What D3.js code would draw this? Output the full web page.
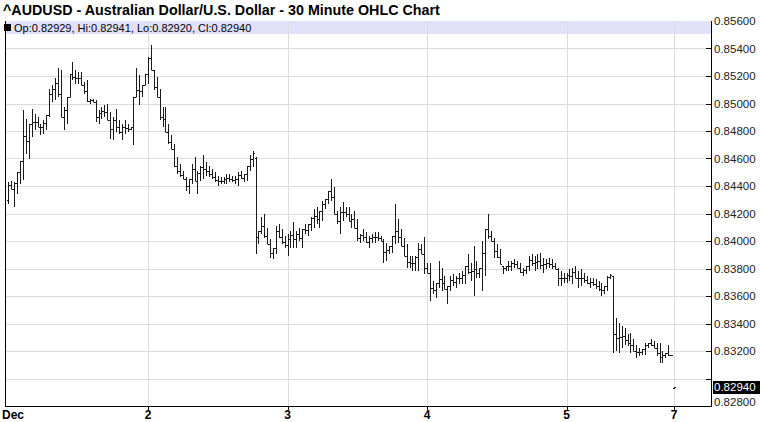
<!DOCTYPE html>
<html><head><meta charset="utf-8">
<script src="https://cdn.jsdelivr.net/npm/d3@7"></script>
<style>body{margin:0;background:#fff}svg{display:block}</style>
</head><body><svg id="c" width="761" height="422"></svg>
<script>
const titleText = "^AUDUSD - Australian Dollar/U.S. Dollar - 30 Minute OHLC Chart";
const dayLabels = ["Dec","2","3","4","5","7"];
const dayIndex = [0,48,96,144,192,229];
const yTicks = [0.856,0.854,0.852,0.850,0.848,0.846,0.844,0.842,0.840,0.838,0.836,0.834,0.832,0.830,0.828];

const opens = [
.84300,.84409,.84379,.84421,.84500,.84585,.84762,.84726,.84853,.84865,
.84865,.84828,.84829,.84859,.84914,.85072,.85103,.85151,.85072,.84902,
.84950,.85047,.85218,.85194,.85188,.85182,.85133,.85090,.85018,.85024,
.85011,.84902,.84933,.84945,.84938,.84877,.84817,.84878,.84829,.84792,
.84829,.84823,.84816,.84828,.85050,.85097,.85090,.85133,.85218,.85334,
.85242,.85121,.85047,.84902,.84884,.84792,.84720,.84671,.84549,.84512,
.84482,.84451,.84397,.84451,.84525,.84439,.84494,.84537,.84525,.84506,
.84489,.84464,.84440,.84439,.84439,.84452,.84458,.84452,.84446,.84452,
.84482,.84458,.84488,.84549,.84597,.84600,.84026,.84074,.84111,.84038,
.83977,.83910,.83952,.84074,.84032,.83995,.83971,.84013,.84044,.84013,
.84050,.84019,.84086,.84081,.84123,.84166,.84184,.84159,.84220,.84270,
.84306,.84366,.84320,.84196,.84147,.84214,.84208,.84196,.84147,.84159,
.84098,.84020,.84044,.84026,.83995,.84020,.84026,.84032,.84020,.84001,
.83922,.83935,.83965,.84038,.84075,.84026,.83965,.83892,.83849,.83837,
.83837,.83886,.83941,.83904,.83807,.83770,.83661,.83642,.83697,.83721,
.83698,.83649,.83673,.83716,.83703,.83728,.83734,.83752,.83819,.83776,
.83783,.83794,.83770,.83806,.83916,.84086,.84038,.84001,.83928,.83886,
.83819,.83801,.83819,.83819,.83837,.83831,.83807,.83776,.83789,.83819,
.83862,.83837,.83849,.83855,.83825,.83831,.83843,.83831,.83819,.83794,
.83728,.83734,.83734,.83752,.83746,.83776,.83733,.83734,.83734,.83716,
.83697,.83703,.83686,.83673,.83649,.83643,.83673,.83740,.83746,.83320,
.83296,.83302,.83308,.83278,.83259,.83241,.83198,.83192,.83193,.83211,
.83241,.83259,.83247,.83222,.83186,.83156,.83168,.83186,.83168,.82929];

const highs = [
.84427,.84439,.84427,.84500,.84585,.84950,.84890,.84853,.84963,.84926,
.84902,.84853,.84877,.84914,.85109,.85133,.85182,.85255,.85242,.84975,
.85047,.85218,.85303,.85242,.85230,.85230,.85157,.85169,.85036,.85036,
.85023,.84950,.84975,.84987,.84999,.84938,.84902,.84963,.84877,.84853,
.84877,.84853,.84828,.85050,.85255,.85206,.85133,.85218,.85339,.85425,
.85242,.85194,.85109,.84975,.84975,.84853,.84768,.84707,.84610,.84561,
.84512,.84463,.84451,.84561,.84610,.84512,.84549,.84622,.84573,.84549,
.84525,.84500,.84476,.84463,.84463,.84488,.84488,.84476,.84476,.84500,
.84512,.84488,.84549,.84622,.84658,.84610,.84074,.84171,.84196,.84098,
.84013,.83952,.84111,.84123,.84086,.84038,.84050,.84074,.84135,.84074,
.84098,.84086,.84123,.84123,.84171,.84233,.84244,.84220,.84293,.84306,
.84366,.84452,.84390,.84220,.84244,.84281,.84244,.84244,.84196,.84220,
.84160,.84050,.84086,.84062,.84038,.84050,.84062,.84062,.84038,.84013,
.83989,.83965,.84038,.84269,.84160,.84086,.84025,.83977,.83892,.83892,
.83892,.83989,.83977,.84030,.83843,.83843,.83709,.83697,.83855,.83806,
.83746,.83673,.83746,.83758,.83746,.83770,.83782,.83819,.83904,.83843,
.83965,.83855,.83806,.84001,.84086,.84196,.84074,.84025,.83977,.83941,
.83819,.83819,.83855,.83855,.83867,.83855,.83843,.83806,.83819,.83892,
.83904,.83892,.83904,.83916,.83879,.83867,.83879,.83867,.83843,.83806,
.83782,.83770,.83770,.83794,.83806,.83819,.83782,.83794,.83770,.83746,
.83733,.83733,.83722,.83709,.83697,.83673,.83746,.83758,.83746,.83441,
.83405,.83381,.83368,.83320,.83332,.83284,.83247,.83222,.83211,.83259,
.83259,.83284,.83271,.83259,.83259,.83198,.83186,.83247,.83174,.82941];

const lows = [
.84269,.84379,.84244,.84342,.84415,.84440,.84634,.84598,.84755,.84804,
.84828,.84768,.84780,.84804,.84902,.85011,.85023,.85047,.84902,.84804,
.84853,.85047,.85169,.85145,.85145,.85133,.85072,.85011,.84999,.85011,
.84865,.84853,.84890,.84902,.84877,.84744,.84731,.84792,.84780,.84731,
.84780,.84792,.84804,.84695,.85047,.84987,.85047,.85133,.85145,.85242,
.85096,.85047,.84877,.84828,.84792,.84707,.84671,.84536,.84488,.84463,
.84451,.84366,.84342,.84415,.84439,.84342,.84439,.84452,.84476,.84463,
.84452,.84427,.84403,.84415,.84415,.84415,.84427,.84427,.84415,.84403,
.84452,.84427,.84439,.84512,.84536,.83904,.83977,.84050,.84025,.83977,
.83879,.83867,.83904,.84025,.83977,.83952,.83892,.83952,.83952,.83952,
.84001,.83952,.84050,.84038,.84074,.84098,.84123,.84098,.84147,.84233,
.84269,.84293,.84196,.84123,.84050,.84147,.84171,.84147,.84098,.84098,
.84001,.83989,.84001,.83989,.83952,.83989,.83989,.84001,.84001,.83843,
.83855,.83904,.83916,.83977,.83989,.83965,.83892,.83806,.83806,.83782,
.83782,.83782,.83904,.83758,.83770,.83563,.83612,.83587,.83660,.83636,
.83649,.83539,.83636,.83673,.83660,.83685,.83685,.83685,.83758,.83709,
.83600,.83733,.83733,.83636,.83746,.84013,.84001,.83879,.83879,.83831,
.83758,.83782,.83782,.83782,.83806,.83806,.83770,.83746,.83758,.83782,
.83819,.83782,.83794,.83794,.83770,.83794,.83806,.83794,.83794,.83673,
.83673,.83697,.83697,.83709,.83685,.83733,.83660,.83673,.83697,.83685,
.83660,.83673,.83649,.83636,.83600,.83612,.83636,.83722,.83186,.83198,
.83186,.83222,.83247,.83235,.83186,.83198,.83149,.83162,.83174,.83174,
.83222,.83235,.83222,.83162,.83113,.83113,.83149,.83162,.83162,.82920];

const closes = [
.84409,.84379,.84421,.84500,.84585,.84762,.84726,.84853,.84865,.84865,
.84828,.84829,.84859,.84914,.85072,.85103,.85151,.85072,.84902,.84950,
.85047,.85218,.85194,.85188,.85182,.85133,.85090,.85018,.85024,.85011,
.84902,.84933,.84945,.84938,.84877,.84817,.84878,.84829,.84792,.84829,
.84823,.84816,.84828,.85050,.85097,.85090,.85133,.85218,.85334,.85242,
.85121,.85047,.84902,.84884,.84792,.84720,.84671,.84549,.84512,.84482,
.84451,.84397,.84451,.84525,.84439,.84494,.84537,.84525,.84506,.84489,
.84464,.84440,.84439,.84439,.84452,.84458,.84452,.84446,.84452,.84482,
.84458,.84488,.84549,.84597,.84640,.84026,.84074,.84111,.84038,.83977,
.83910,.83952,.84074,.84032,.83995,.83971,.84013,.84044,.84013,.84050,
.84019,.84086,.84081,.84123,.84166,.84184,.84159,.84220,.84270,.84306,
.84366,.84320,.84196,.84147,.84214,.84208,.84196,.84147,.84159,.84098,
.84020,.84044,.84026,.83995,.84020,.84026,.84032,.84020,.84001,.83922,
.83935,.83965,.84038,.84075,.84026,.83965,.83892,.83849,.83837,.83837,
.83886,.83941,.83904,.83807,.83770,.83661,.83642,.83697,.83721,.83698,
.83649,.83673,.83716,.83703,.83728,.83734,.83752,.83819,.83776,.83783,
.83794,.83770,.83806,.83916,.84086,.84038,.84001,.83928,.83886,.83831,
.83801,.83819,.83819,.83837,.83831,.83807,.83776,.83789,.83819,.83862,
.83837,.83849,.83855,.83825,.83831,.83843,.83831,.83819,.83794,.83728,
.83734,.83734,.83752,.83746,.83776,.83733,.83734,.83734,.83716,.83697,
.83703,.83686,.83673,.83649,.83643,.83673,.83740,.83750,.83320,.83296,
.83302,.83308,.83278,.83259,.83241,.83198,.83192,.83193,.83211,.83241,
.83259,.83247,.83222,.83186,.83156,.83168,.83186,.83168,.83170,.82940];

const FONT = "'Liberation Sans', Arial, Helvetica, sans-serif";
const L = 5, R = 711, T = 21, B = 406;
const svg = d3.select("#c");
const x = d3.scaleLinear().domain([-1.2, 241.7]).range([L, R]);
const y = d3.scaleLinear().domain([0.828, 0.856]).range([B, T]);
const px = v => Math.round(v) + 0.5;
const fmt = d3.format(".5f");
const last = opens.length - 1;
const yLast = y(closes[last]);

// title
svg.append("text").attr("x", 3).attr("y", 15)
  .attr("font-family", FONT).attr("font-weight", "bold").attr("font-size", 14.3)
  .attr("fill", "#000").text(titleText);

// legend band
svg.append("rect").attr("x", L + 1).attr("y", T).attr("width", R - L - 1).attr("height", 13)
  .attr("fill", "#e1e1fa");

// gridlines
const inner = yTicks.filter(t => t < 0.8559 && t > 0.8281);
svg.append("g").selectAll("line").data(inner).join("line")
  .attr("x1", L).attr("x2", R).attr("y1", d => px(y(d))).attr("y2", d => px(y(d)))
  .attr("stroke", "#dcdcdc").attr("stroke-width", 1);
svg.append("g").selectAll("line").data(dayIndex.slice(1)).join("line")
  .attr("x1", d => px(x(d))).attr("x2", d => px(x(d))).attr("y1", T).attr("y2", B)
  .attr("stroke", "#dcdcdc").attr("stroke-width", 1);

// legend text
svg.append("rect").attr("x", 4).attr("y", 24).attr("width", 7).attr("height", 7).attr("fill", "#000");
svg.append("text").attr("x", 14).attr("y", 31.5)
  .attr("font-family", FONT).attr("font-size", 11).attr("fill", "#000")
  .text(`Op:${fmt(opens[last])}, Hi:${fmt(highs[last])}, Lo:${fmt(lows[last])}, Cl:${fmt(closes[last])}`);

// OHLC bars
const g = svg.append("g").attr("stroke", "#1a1a1a").attr("stroke-width", 1);
opens.forEach((o, i) => {
  const cx = px(x(i));
  const yh = Math.round(y(highs[i])), yl = Math.max(Math.round(y(lows[i])), yh + 1);
  g.append("line").attr("x1", cx).attr("x2", cx).attr("y1", yh).attr("y2", yl);
  const yo = px(y(o)), yc = px(y(closes[i]));
  g.append("line").attr("x1", cx - 1.5).attr("x2", cx).attr("y1", yo).attr("y2", yo);
  g.append("line").attr("x1", cx).attr("x2", cx + 1.5).attr("y1", yc).attr("y2", yc);
});

// frame
svg.append("line").attr("x1", L + 0.5).attr("x2", L + 0.5).attr("y1", T).attr("y2", B + 1).attr("stroke", "#000");
svg.append("line").attr("x1", R + 0.5).attr("x2", R + 0.5).attr("y1", T).attr("y2", B + 1).attr("stroke", "#000");
svg.append("line").attr("x1", L).attr("x2", R + 1).attr("y1", B + 0.5).attr("y2", B + 0.5).attr("stroke", "#000");

// right axis ticks + labels (labels hidden where the last-price marker sits)
svg.append("g").selectAll("line").data(inner).join("line")
  .attr("x1", R - 5).attr("x2", R).attr("y1", d => px(y(d))).attr("y2", d => px(y(d)))
  .attr("stroke", "#000");
svg.append("g").selectAll("text")
  .data(yTicks.filter(d => Math.abs(y(d) - yLast) > 12 || d === 0.828))
  .join("text")
  .attr("x", 714).attr("y", d => Math.min(y(d), 402)).attr("dy", "0.36em")
  .attr("font-family", FONT).attr("font-size", 11.5).attr("fill", "#222")
  .text(d => fmt(d));

// last price marker
svg.append("rect").attr("x", 713).attr("y", Math.round(yLast) - 6).attr("width", 47).attr("height", 13).attr("fill", "#000");
svg.append("text").attr("x", 714).attr("y", yLast).attr("dy", "0.36em")
  .attr("font-family", FONT).attr("font-size", 11.5).attr("fill", "#fff").text(fmt(closes[last]));

// x axis ticks + labels
svg.append("g").selectAll("line").data(dayIndex.slice(1)).join("line")
  .attr("x1", d => px(x(d))).attr("x2", d => px(x(d))).attr("y1", B).attr("y2", B + 4)
  .attr("stroke", "#000");
svg.append("g").selectAll("text").data(dayLabels).join("text")
  .attr("x", (d, i) => i === 0 ? 2 : x(dayIndex[i]))
  .attr("text-anchor", (d, i) => i === 0 ? "start" : "middle")
  .attr("y", 419).attr("font-family", FONT).attr("font-weight", "bold").attr("font-size", 12)
  .attr("fill", "#000").text(d => d);
</script></body></html>
